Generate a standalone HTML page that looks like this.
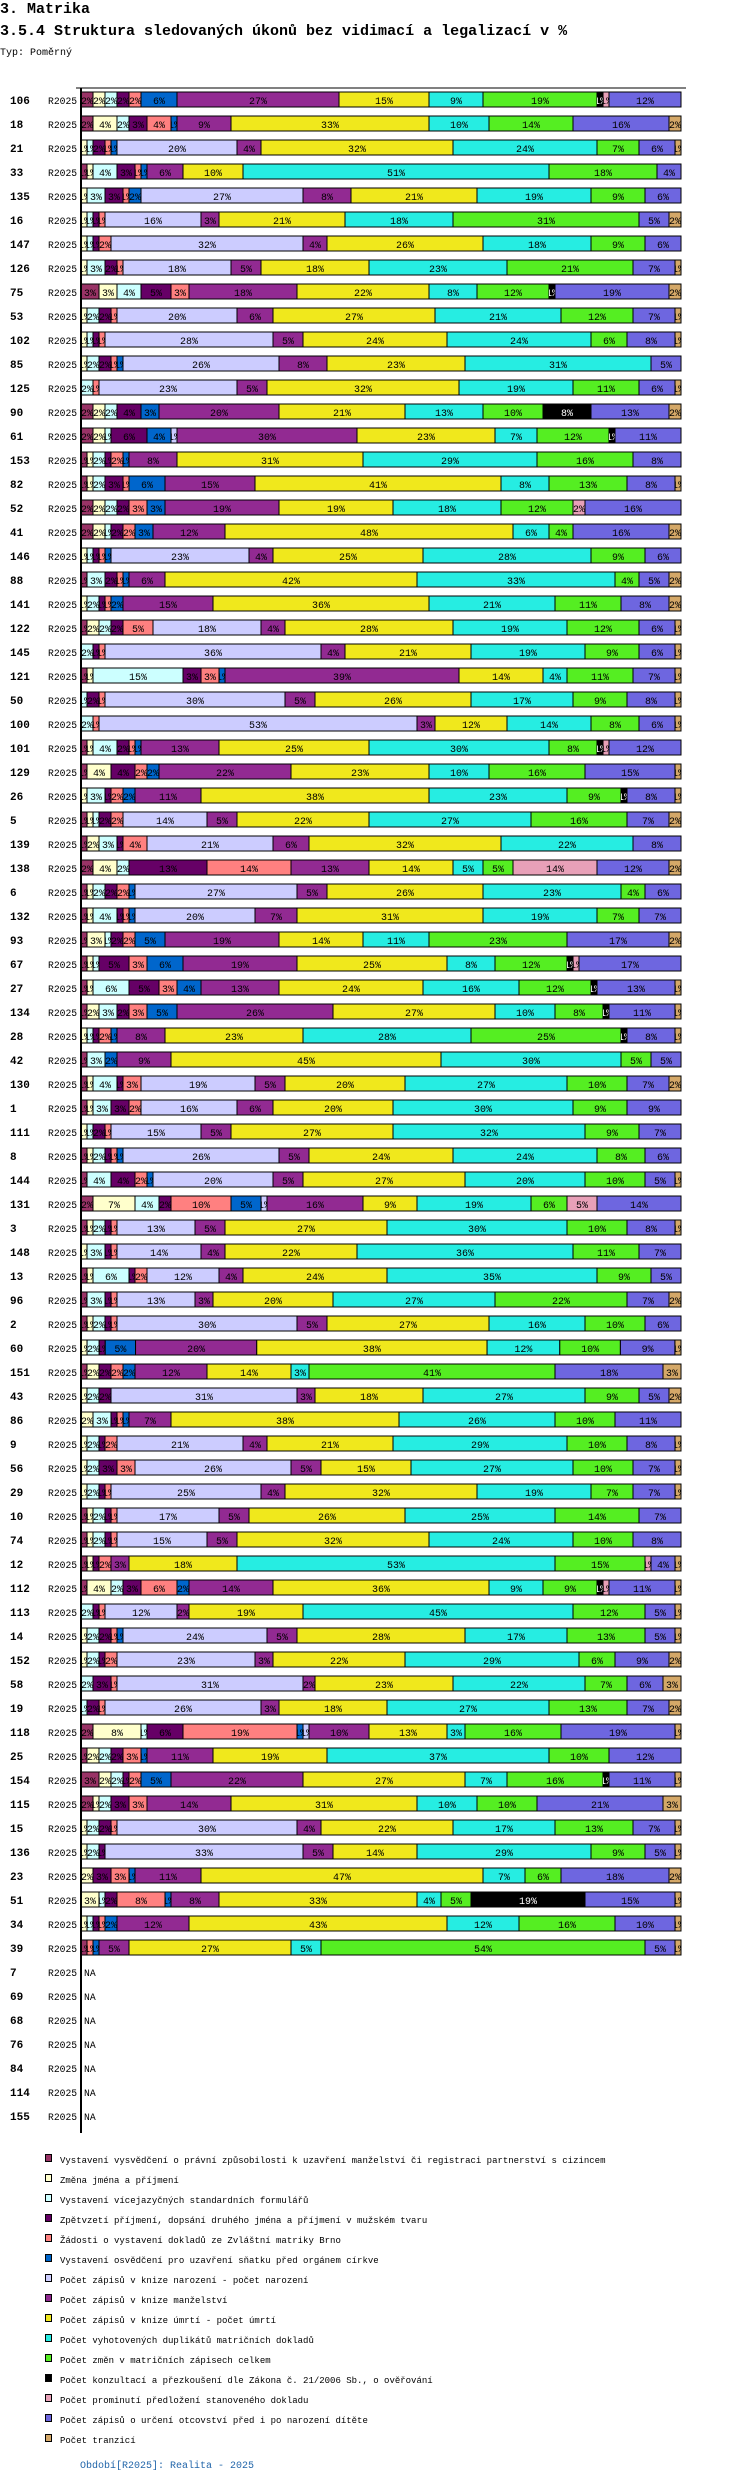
<!DOCTYPE html>
<html><head><meta charset="utf-8">
<style>
html,body{margin:0;padding:0;background:#fff;}
body{width:750px;height:2482px;overflow:hidden;}
svg text{font-family:"Liberation Mono",monospace;}
</style></head>
<body>
<svg id="chart" width="750" height="2482" xmlns="http://www.w3.org/2000/svg">
<text x="0" y="13" font-size="15" font-weight="bold">3. Matrika</text>
<text x="0" y="35" font-size="15" font-weight="bold">3.5.4 Struktura sledovaných úkonů bez vidimací a legalizací v %</text>
<text x="0" y="55" font-size="10">Typ: Poměrný</text>
<g id="bars"></g>
<g id="legend"></g>
<text x="80" y="2468" font-size="10" fill="#2266aa">Období[R2025]: Realita - 2025</text>
</svg>
<script>
const categories = ["106","18","21","33","135","16","147","126","75","53","102","85","125","90","61","153","82","52","41","146","88","141","122","145","121","50","100","101","129","26","5","139","138","6","132","93","67","27","134","28","42","130","1","111","8","144","131","3","148","13","96","2","60","151","43","86","9","56","29","10","74","12","112","113","14","152","58","19","118","25","154","115","15","136","23","51","34","39","7","69","68","76","84","114","155"];
const seriesNames = ["Vystavení vysvědčení o právní způsobilosti k uzavření manželství či registraci partnerství s cizincem","Změna jména a příjmení","Vystavení vícejazyčných standardních formulářů","Zpětvzetí příjmení, dopsání druhého jména a příjmení v mužském tvaru","Žádosti o vystavení dokladů ze Zvláštní matriky Brno","Vystavení osvědčení pro uzavření sňatku před orgánem církve","Počet zápisů v knize narození - počet narození","Počet zápisů v knize manželství","Počet zápisů v knize úmrtí - počet úmrtí","Počet vyhotovených duplikátů matričních dokladů","Počet změn v matričních zápisech celkem","Počet  konzultací a přezkoušení dle Zákona č. 21/2006 Sb., o ověřování","Počet prominutí předložení stanoveného dokladu","Počet zápisů o určení otcovství před i po narození dítěte","Počet tranzicí"];
const seriesColors = ["#993366","#ffffcc","#ccffff","#660066","#ff8080","#0066cc","#ccccff","#922a92","#f0e81c","#26ede2","#55ee22","#000000","#e8a0b8","#6e66e0","#d4a868"];
const values = [
[2,2,2,2,2,6,0,27,15,9,19,1,1,12,0],
[2,4,2,3,4,1,0,9,33,10,14,0,0,16,2],
[0,1,1,2,1,1,20,4,32,24,7,0,0,6,1],
[1,1,4,3,1,1,0,6,10,51,18,0,0,4,0],
[0,1,3,3,1,2,27,8,21,19,9,0,0,6,0],
[0,1,1,1,1,0,16,3,21,18,31,0,0,5,2],
[0,1,1,1,2,0,32,4,26,18,9,0,0,6,0],
[0,1,3,2,1,0,18,5,18,23,21,0,0,7,1],
[3,3,4,5,3,0,0,18,22,8,12,1,0,19,2],
[0,1,2,2,1,0,20,6,27,21,12,0,0,7,1],
[0,1,1,1,1,0,28,5,24,24,6,0,0,8,1],
[0,1,2,2,1,1,26,8,23,31,0,0,0,5,0],
[0,0,2,0,1,0,23,5,32,19,11,0,0,6,1],
[2,2,2,4,0,3,0,20,21,13,10,8,0,13,2],
[2,2,1,6,0,4,1,30,23,7,12,1,0,11,0],
[1,1,2,1,2,1,0,8,31,29,16,0,0,8,0],
[1,1,2,3,1,6,0,15,41,8,13,0,0,8,1],
[2,2,2,2,3,3,0,19,19,18,12,0,2,16,0],
[2,2,1,2,2,3,0,12,48,6,4,0,0,16,2],
[0,1,1,1,1,1,23,4,25,28,9,0,0,6,0],
[1,0,3,2,1,1,0,6,42,33,4,0,0,5,2],
[0,1,2,1,1,2,0,15,36,21,11,0,0,8,2],
[1,2,2,2,5,0,18,4,28,19,12,0,0,6,1],
[0,0,2,1,1,0,36,4,21,19,9,0,0,6,1],
[1,1,15,3,3,1,0,39,14,4,11,0,0,7,1],
[0,0,1,2,1,0,30,5,26,17,9,0,0,8,1],
[0,0,2,0,1,0,53,3,12,14,8,0,0,6,1],
[1,1,4,2,1,1,0,13,25,30,8,1,1,12,0],
[1,4,0,4,2,2,0,22,23,10,16,0,0,15,1],
[0,1,3,1,2,2,0,11,38,23,9,1,0,8,1],
[1,1,1,2,2,0,14,5,22,27,16,0,0,7,2],
[1,2,3,1,4,0,21,6,32,22,0,0,0,8,0],
[2,4,2,13,14,0,0,13,14,5,5,0,14,12,2],
[1,1,2,2,2,1,27,5,26,23,4,0,0,6,0],
[1,1,4,1,1,1,20,7,31,19,7,0,0,7,0],
[1,3,1,2,2,5,0,19,14,11,23,0,0,17,2],
[1,1,1,5,3,6,0,19,25,8,12,1,1,17,0],
[1,1,6,5,3,4,0,13,24,16,12,1,0,13,1],
[1,2,3,2,3,5,0,26,27,10,8,1,0,11,1],
[0,1,1,1,2,1,0,8,23,28,25,1,0,8,1],
[1,0,3,0,0,2,0,9,45,30,5,0,0,5,0],
[1,1,4,1,3,0,19,5,20,27,10,0,0,7,2],
[1,1,3,3,2,0,16,6,20,30,9,0,0,9,0],
[0,1,1,2,1,0,15,5,27,32,9,0,0,7,0],
[1,1,2,1,1,1,26,5,24,24,8,0,0,6,0],
[1,0,4,4,2,1,20,5,27,20,10,0,0,5,1],
[2,7,4,2,10,5,1,16,9,19,6,0,5,14,0],
[1,1,2,1,1,0,13,5,27,30,10,0,0,8,1],
[0,1,3,1,1,0,14,4,22,36,11,0,0,7,0],
[1,1,6,1,2,0,12,4,24,35,9,0,0,5,0],
[1,0,3,1,1,0,13,3,20,27,22,0,0,7,2],
[1,1,2,1,1,0,30,5,27,16,10,0,0,6,0],
[0,1,2,1,0,5,0,20,38,12,10,0,0,9,1],
[1,2,0,2,2,2,0,12,14,3,41,0,0,18,3],
[0,1,2,2,0,0,31,3,18,27,9,0,0,5,2],
[0,2,3,1,1,1,0,7,38,26,10,0,0,11,0],
[0,1,2,1,2,0,21,4,21,29,10,0,0,8,1],
[0,1,2,3,3,0,26,5,15,27,10,0,0,7,1],
[0,1,2,1,1,0,25,4,32,19,7,0,0,7,1],
[1,1,2,1,1,0,17,5,26,25,14,0,0,7,0],
[1,1,2,1,1,0,15,5,32,24,10,0,0,8,0],
[1,1,0,1,2,0,0,3,18,53,15,0,1,4,1],
[1,4,2,3,6,2,0,14,36,9,9,1,1,11,1],
[0,0,2,1,1,0,12,2,19,45,12,0,0,5,1],
[0,1,2,2,1,1,24,5,28,17,13,0,0,5,1],
[0,1,2,1,2,0,23,3,22,29,6,0,0,9,2],
[0,0,2,3,1,0,31,2,23,22,7,0,0,6,3],
[0,0,1,2,1,0,26,3,18,27,13,0,0,7,2],
[2,8,1,6,19,1,1,10,13,3,16,0,0,19,1],
[1,2,2,2,3,1,0,11,19,37,10,0,0,12,0],
[3,2,2,1,2,5,0,22,27,7,16,1,0,11,1],
[2,1,2,3,3,0,0,14,31,10,10,0,0,21,3],
[0,1,2,2,1,0,30,4,22,17,13,0,0,7,1],
[0,1,2,1,0,0,33,5,14,29,9,0,0,5,1],
[0,2,0,3,3,1,0,11,47,7,6,0,0,18,2],
[0,3,1,2,8,1,0,8,33,4,5,19,0,15,1],
[0,1,1,1,1,2,0,12,43,12,16,0,0,10,1],
[1,0,0,0,1,1,0,5,27,5,54,0,0,5,1],
null,null,null,null,null,null,null
];
const periodLabel = "R2025";

const NS = "http://www.w3.org/2000/svg";
const X0 = 81, W = 600, Y0 = 100, PITCH = 24, BH = 15;
function xScale(frac){ return X0 + frac * W; }
function yScale(i){ return Y0 + i * PITCH; }
function mk(tag, attrs){ const e = document.createElementNS(NS, tag); for (const k in attrs) e.setAttribute(k, attrs[k]); return e; }

const bars = document.getElementById('bars');
const defs = mk('defs', {}); bars.appendChild(defs);

categories.forEach((cat, i) => {
  const cy = yScale(i);
  const lab = mk('text', {x: 10, y: cy + 4, 'font-size': 11, 'font-weight': 'bold'});
  
  
  lab.textContent = cat; bars.appendChild(lab);
  const per = mk('text', {x: 48, y: cy + 4, 'font-size': 9.7});
  
  
  per.textContent = periodLabel; bars.appendChild(per);
  const row = values[i];
  if (!row) {
    const na = mk('text', {x: 84, y: cy + 4, 'font-size': 9.7});
    
    
    na.textContent = 'NA'; bars.appendChild(na);
    return;
  }
  const total = row.reduce((a, b) => a + b, 0);
  let cum = 0;
  row.forEach((v, s) => {
    if (!v) return;
    const xa = xScale(cum / total), xb = xScale((cum + v) / total);
    cum += v;
    const y = cy - 8;
    const r = mk('rect', {x: xa, y: y, width: xb - xa, height: BH, fill: seriesColors[s], stroke: '#000', 'stroke-width': 1});
    
    
    bars.appendChild(r);
    const cid = 'c' + i + '_' + s;
    const cp = mk('clipPath', {id: cid});
    cp.appendChild(mk('rect', {x: xa, y: y, width: Math.max(xb - xa, 0), height: BH}));
    defs.appendChild(cp);
    const t = mk('text', {x: (xa + xb) / 2, y: cy + 4, 'font-size': 10, 'text-anchor': 'middle', 'clip-path': 'url(#' + cid + ')', fill: s === 11 ? '#fff' : '#000'});
    
    
    t.textContent = v + '%';
    bars.appendChild(t);
  });
});
const axisV = mk('line', {x1: 81, y1: 88, x2: 81, y2: 2133, stroke: '#000', 'stroke-width': 2});


bars.appendChild(axisV);
const axisH = mk('line', {x1: 76, y1: 88, x2: 686, y2: 88, stroke: '#000', 'stroke-width': 1});


bars.appendChild(axisH);

const legend = document.getElementById('legend');
seriesNames.forEach((n, s) => {
  const cy = 2159 + s * 20;
  const sq = mk('rect', {x: 45.5, y: cy - 4.5, width: 6, height: 7, fill: seriesColors[s], stroke: '#000', 'stroke-width': 1});
  
  
  legend.appendChild(sq);
  const t = mk('text', {x: 60, y: cy + 4, 'font-size': 9, 'xml:space': 'preserve'});
  
  
  t.textContent = n;
  legend.appendChild(t);
});
</script>
</body></html>
